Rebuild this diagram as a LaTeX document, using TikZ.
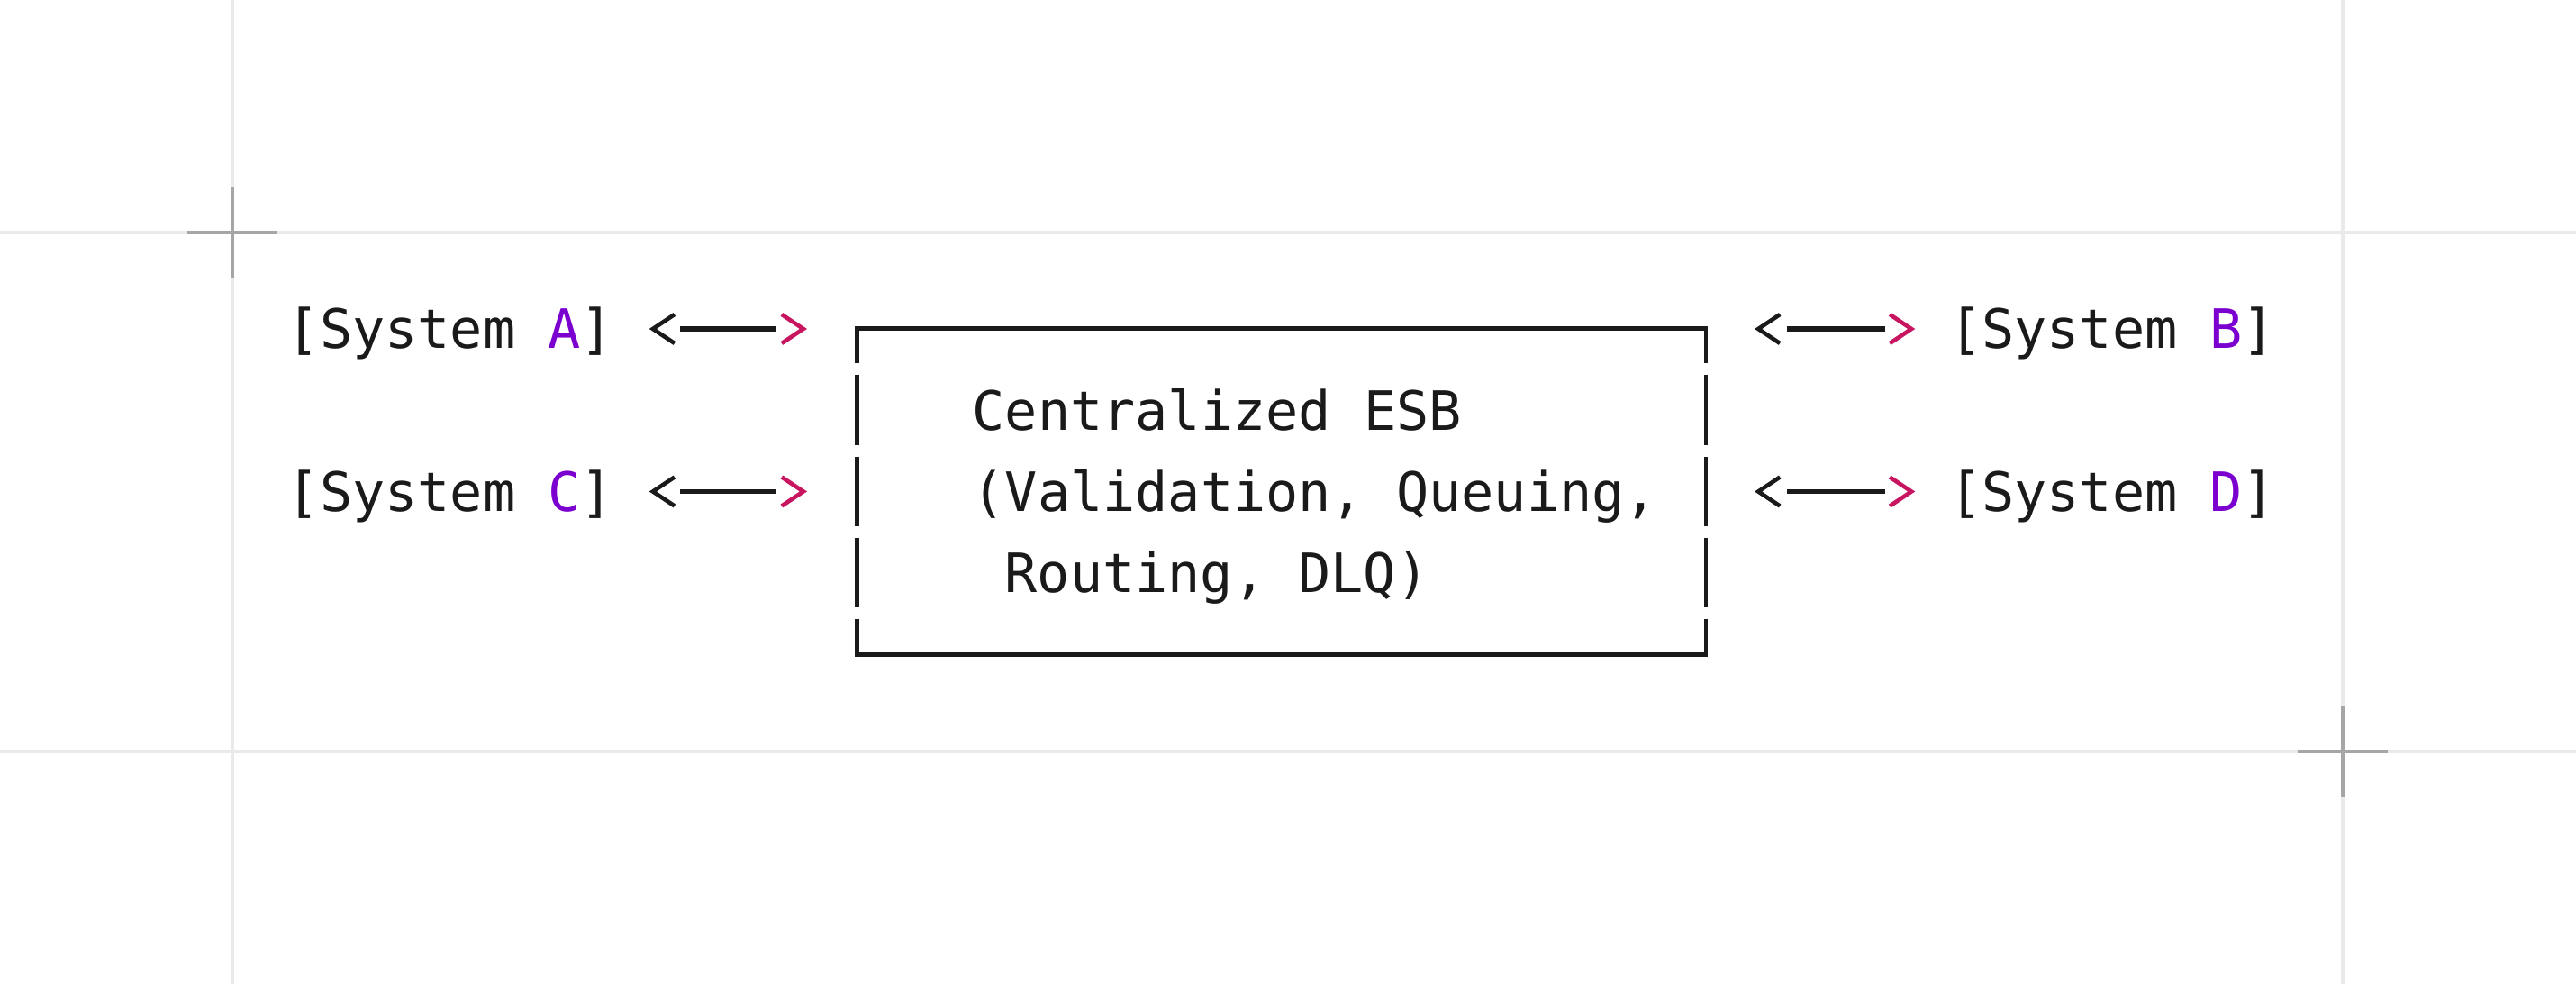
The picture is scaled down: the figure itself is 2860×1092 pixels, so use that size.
\documentclass[tikz,border=0pt]{standalone}
\usepackage{fontspec}
\setmonofont{DejaVu Sans Mono}
\usetikzlibrary{arrows.meta}
\definecolor{ink}{HTML}{1A1A1A}
\definecolor{letter}{HTML}{7B00D0}
\definecolor{tipred}{HTML}{C8155F}
\definecolor{guide}{HTML}{EAEAEA}
\definecolor{crossgray}{HTML}{A6A6A6}

\begin{document}
\begin{tikzpicture}[x=0.01cm, y=-0.01cm,
    txt/.style={font=\ttfamily\fontsize{17.1}{20}\selectfont, text=ink, inner sep=0pt, text height=12.4pt, text depth=0pt},
    frame/.style={ink, line width=1.42pt},
    link/.style={ink, line width=1.45pt},
    chevrons/.style={ink, line width=1.3pt, dash pattern=on 0pt off 50cm,
        {Straight Barb[length=0.24cm, width=0.32cm]}-{Straight Barb[color=tipred, length=0.24cm, width=0.32cm]}},
    guideline/.style={guide, line width=1.1pt},
    cross/.style={crossgray, line width=1.1pt}]
    \path[use as bounding box, fill=white] (0,0) rectangle (2860,1092);

    \draw[guideline] (258,0) -- (258,1092) (2601,0) -- (2601,1092);
    \draw[guideline] (0,258) -- (2860,258) (0,834) -- (2860,834);
    \foreach \x/\y in {258/258, 2601/834}
        \draw[cross] (\x-50,\y) -- (\x+50,\y) (\x,\y-50) -- (\x,\y+50);

    \node[txt] (sysA) at (500,365) {[System \textcolor{letter}{A}]};
    \node[txt] (sysC) at (500,545.5) {[System \textcolor{letter}{C}]};
    \node[txt] (sysB) at (2345,365) {[System \textcolor{letter}{B}]};
    \node[txt] (sysD) at (2345,545.5) {[System \textcolor{letter}{D}]};

    \node[minimum width=9.41cm, minimum height=3.61cm, inner sep=0pt] (esb) at (1422.5,545.5) {};
    \draw[frame, line cap=rect] (esb.north west) -- (esb.north east) (esb.south west) -- (esb.south east);
    \draw[frame, dash pattern=on 0.7725cm off 0.13cm, dash phase=0.3825cm]
        (esb.north west) -- (esb.south west) (esb.north east) -- (esb.south east);

    \node[txt, anchor=west] (esbTop) at (1079,455.25) {Centralized ESB};
    \node[txt, anchor=west] (esbMid) at (1079,545.5) {(Validation, Queuing,};
    \node[txt, anchor=west] (esbBot) at (1115,635.75) {Routing, DLQ)};

    \foreach \l/\r in {sysA/sysB, sysC/sysD} {
        \draw[chevrons, shorten <=0.39cm, shorten >=0.55cm] (\l.east) -- (\l.east -| esb.west);
        \draw[link, shorten <=0.73cm, shorten >=0.89cm] (\l.east) -- (\l.east -| esb.west);
        \draw[chevrons, shorten <=0.54cm, shorten >=0.37cm] (\r.west -| esb.east) -- (\r.west);
        \draw[link, shorten <=0.90cm, shorten >=0.70cm] (\r.west -| esb.east) -- (\r.west);
    }
\end{tikzpicture}
\end{document}
